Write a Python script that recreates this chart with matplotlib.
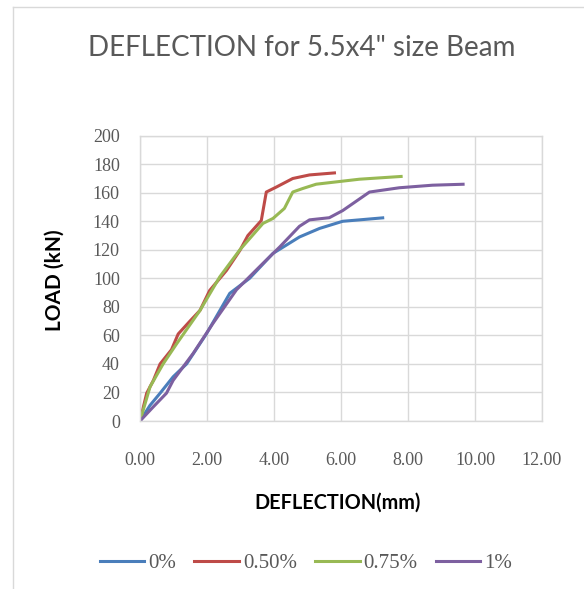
import matplotlib
matplotlib.use("Agg")
import matplotlib.pyplot as plt
from matplotlib.lines import Line2D

# Load-deflection readings (deflection in mm, load in kN)
defl_0 = [0.0, 0.3, 0.6, 0.99, 1.39, 1.98, 2.68, 3.27, 3.97, 4.76, 5.36, 6.05, 6.55, 7.29]
load_0 = [0, 11, 19.5, 31, 40, 61, 89.5, 100, 117.5, 129, 135, 140, 141, 142.5]

defl_050 = [0.0, 0.2, 0.4, 0.6, 0.94, 1.14, 1.49, 1.79, 2.08, 2.58, 2.98, 3.22, 3.62, 3.77, 4.07, 4.56, 5.06, 5.85]
load_050 = [0, 19.5, 28.5, 40, 50, 61, 70, 77.5, 91.5, 105.5, 119.5, 130, 140.5, 160.5, 164, 170, 172.5, 174]

defl_075 = [0.0, 0.3, 0.69, 1.09, 1.79, 2.38, 2.98, 3.67, 3.97, 4.31, 4.56, 4.86, 5.26, 6.55, 7.84]
load_075 = [0, 24, 40, 54, 77.5, 101, 120, 138.5, 142, 149, 160.5, 163, 166, 169.5, 171.5]

defl_1 = [0.0, 0.4, 0.79, 0.99, 1.59, 2.18, 2.88, 3.67, 4.17, 4.76, 5.06, 5.65, 6.05, 6.85, 7.74, 8.73, 9.69]
load_1 = [0, 10, 19.5, 28.5, 47.5, 68.5, 92, 110.5, 122, 136.5, 141, 142.5, 147.5, 160.5, 163.5, 165.3, 166]

series_labels = ["0%", "0.50%", "0.75%", "1%"]
series_colors = ["#4A7EBB", "#BE4B48", "#98B954", "#7D60A0"]

x_ticks = [0, 2, 4, 6, 8, 10, 12]
y_ticks = list(range(0, 201, 20))

fig = plt.figure(figsize=(5.84, 5.89), dpi=100)
ax = fig.add_axes([140 / 584, 1 - 421 / 589, (542 - 140) / 584, (421 - 135.7) / 589])

series = [(defl_0, load_0), (defl_050, load_050), (defl_075, load_075), (defl_1, load_1)]
for (xs, ys), lab, col in zip(series, series_labels, series_colors):
    ax.plot(xs, ys, color=col, lw=2.2, label=lab, solid_capstyle="butt")

ax.set_xlim(0, 12)
ax.set_ylim(0, 200)
ax.set_xticks(x_ticks)
ax.set_yticks(y_ticks)
ax.set_xticklabels([f"{v:.2f}" for v in x_ticks])
ax.set_yticklabels([str(v) for v in y_ticks])
ax.tick_params(length=0, labelsize=13, labelcolor="#595959")
for lab in ax.get_xticklabels() + ax.get_yticklabels():
    lab.set_family("Liberation Serif")
ax.tick_params(axis="x", pad=22)
ax.tick_params(axis="y", pad=14.5)

ax.grid(True, color="#D9D9D9", lw=1.0)
ax.set_axisbelow(True)
for sp in ax.spines.values():
    sp.set_color("#D9D9D9")
    sp.set_linewidth(1.0)

ax.set_xlabel("DEFLECTION(mm)", family="Lato", fontweight="bold", fontsize=14.3)
ax.set_ylabel("LOAD (kN)", family="Lato", fontweight="bold", fontsize=15)
ax.xaxis.set_label_coords((338 - 140) / (542 - 140), -(493 - 421) / (421 - 135.7))
ax.yaxis.set_label_coords(-(140 - 65) / (542 - 140), (421 - 280) / (421 - 135.7))

fig.text(302 / 584, 1 - 48 / 589, "DEFLECTION for 5.5x4\" size Beam", family="Lato",
         fontsize=20, color="#595959", ha="center", va="center")

handles = [Line2D([], [], color=c, lw=2.2) for c in series_colors]
fig.legend(handles, series_labels, loc="center", bbox_to_anchor=(306 / 584, 1 - 563 / 589),
           ncol=4, frameon=False, handlelength=2.15, handletextpad=0.2, columnspacing=0.85,
           prop={"family": "Liberation Serif", "size": 15}, labelcolor="#595959")

# light chart-area border on the left and top
fig.add_artist(Line2D([13 / 584, 13 / 584], [0, 1 - 7 / 589], transform=fig.transFigure,
                      color="#D9D9D9", lw=1.0))
fig.add_artist(Line2D([13 / 584, 1], [1 - 7 / 589, 1 - 7 / 589], transform=fig.transFigure,
                      color="#D9D9D9", lw=1.0))

fig.savefig("out.png", dpi=100)
